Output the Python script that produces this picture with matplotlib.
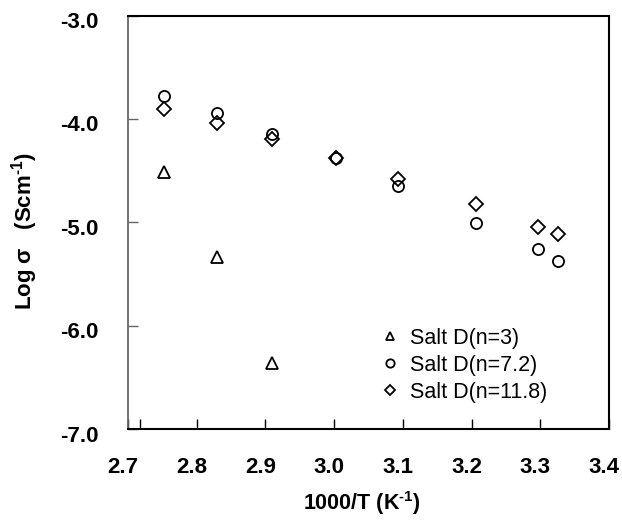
import numpy as np
import matplotlib
matplotlib.use("Agg")
import matplotlib.pyplot as plt
import matplotlib.transforms as mtrans

plt.rcParams['font.family'] = ['Liberation Sans', 'DejaVu Sans']
plt.rcParams['mathtext.fontset'] = 'custom'
plt.rcParams['mathtext.bf'] = 'Liberation Sans:bold'
plt.rcParams['mathtext.rm'] = 'Liberation Sans:bold'

# --- data ---
x_vals = [2.752, 2.829, 2.909, 3.003, 3.093, 3.207, 3.297, 3.326]
n3_x = [2.752, 2.829, 2.909]
n3_y = [-4.51, -5.34, -6.36]
n72_y = [-3.78, -3.946, -4.146, -4.38, -4.65, -5.004, -5.258, -5.371]
n118_y = [-3.905, -4.04, -4.19, -4.38, -4.585, -4.826, -5.043, -5.116]

series_labels = ['Salt D(n=3)', 'Salt D(n=7.2)', 'Salt D(n=11.8)']
x_ticks = [2.7, 2.8, 2.9, 3.0, 3.1, 3.2, 3.3, 3.4]
y_ticks = [-7.0, -6.0, -5.0, -4.0, -3.0]

fig = plt.figure(figsize=(6.22, 5.26), dpi=100)
ax = fig.add_axes([128 / 622, 97 / 526, 481 / 622, 413.5 / 526])

mk = dict(linestyle='none', markerfacecolor='none', markeredgecolor='black',
          markeredgewidth=1.3, markersize=8)
ax.plot(n3_x, n3_y, marker='^', label=series_labels[0], **mk)
ax.plot(x_vals, n72_y, marker='o', label=series_labels[1], **mk)
ax.plot(x_vals, n118_y, marker='D', label=series_labels[2], **dict(mk, markersize=7))

ax.set_xlim(2.70, 3.40)
ax.set_ylim(-7.0, -3.0)
ax.set_xticks(x_ticks)
ax.set_xticklabels(['%.1f' % v for v in x_ticks], fontweight='bold', fontsize=16)
ax.set_yticks(y_ticks)
ax.set_yticklabels(['%.1f' % v for v in y_ticks], fontweight='bold', fontsize=16)
ax.set_xticks([2.717], minor=True)
ax.tick_params(axis='x', which='both', direction='in', length=7, width=1.0, pad=20)
ax.tick_params(axis='y', direction='in', length=7, width=1.0, color='#666666', pad=21)

# the original labels sit a little left / lower than their ticks
shift_x = mtrans.ScaledTranslation(-5 / 100, 0, fig.dpi_scale_trans)
shift_y = mtrans.ScaledTranslation(0, -4.5 / 100, fig.dpi_scale_trans)
for lab in ax.get_xticklabels():
    lab.set_transform(lab.get_transform() + shift_x)
for lab in ax.get_yticklabels():
    lab.set_transform(lab.get_transform() + shift_y)

for side in ['top', 'right', 'bottom']:
    ax.spines[side].set_color('black')
    ax.spines[side].set_linewidth(1.5)
ax.spines['left'].set_color('#666666')
ax.spines['left'].set_linewidth(1.3)

ax.set_xlabel(r'1000/T (K$^{\text{-1}}$)', fontweight='bold', fontsize=15.5)
ax.set_ylabel(r'Log σ   (Scm$^{\text{-1}}$)', fontweight='bold', fontsize=16)
ax.xaxis.set_label_coords(0.486, -0.145)
ax.yaxis.set_label_coords(-0.183, 0.479)

leg = ax.legend(loc='upper left', bbox_to_anchor=(0.504, 0.266), frameon=False,
                fontsize=15.5, handlelength=1.0, handletextpad=0.45, labelspacing=0.28,
                markerscale=0.75, borderaxespad=0.0)

fig.savefig('out.png', dpi=100)
